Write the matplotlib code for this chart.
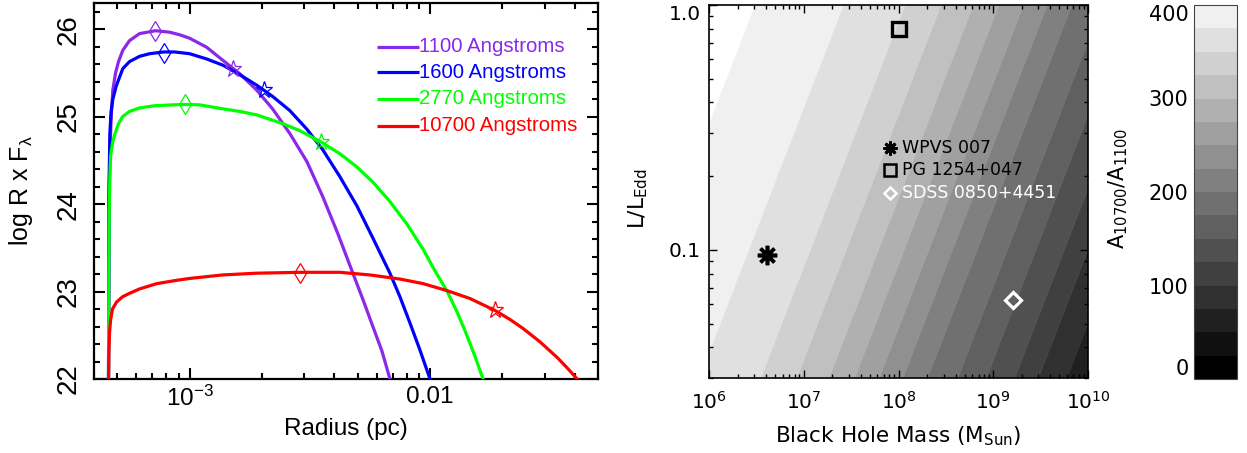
import numpy as np
import matplotlib
matplotlib.use("Agg")
import matplotlib.pyplot as plt
from matplotlib.ticker import LogLocator, MultipleLocator, NullFormatter

plt.rcParams["font.family"] = ["DejaVu Sans"]
plt.rcParams["mathtext.fontset"] = "custom"
plt.rcParams["mathtext.rm"] = "Liberation Sans"
plt.rcParams["mathtext.it"] = "Liberation Sans:italic"
plt.rcParams["mathtext.bf"] = "Liberation Sans:bold"

# ---------------- disk emission profiles (log R x F_lambda vs radius in pc)
band_labels = ["1100 Angstroms", "1600 Angstroms", "2770 Angstroms", "10700 Angstroms"]
band_colors = ["#8c28e8", "#0000ff", "#00ff00", "#ff0000"]

r_1100 = [4.597e-4, 4.619e-4, 4.663e-4, 4.708e-4, 4.789e-4, 4.916e-4, 5.059e-4,
          5.272e-4, 5.623e-4, 6.188e-4, 7.215e-4, 8.254e-4, 9.085e-4, 1.000e-3,
          1.177e-3, 1.372e-3, 1.616e-3, 1.902e-3, 2.218e-3, 2.610e-3, 3.074e-3,
          3.583e-3, 4.139e-3, 4.779e-3, 5.260e-3, 5.788e-3, 6.310e-3, 6.813e-3]
f_1100 = [22.0, 24.0, 24.6, 24.95, 25.30, 25.50, 25.63,
          25.76, 25.87, 25.95, 25.983, 25.966, 25.937, 25.897,
          25.794, 25.646, 25.491, 25.303, 25.086, 24.808, 24.487,
          24.083, 23.66, 23.208, 22.909, 22.598, 22.32, 22.0]

r_1600 = [4.597e-4, 4.619e-4, 4.655e-4, 4.708e-4, 4.789e-4, 4.949e-4, 5.272e-4,
          5.623e-4, 6.188e-4, 6.813e-4, 7.790e-4, 8.660e-4, 1.000e-3, 1.177e-3,
          1.372e-3, 1.616e-3, 1.902e-3, 2.218e-3, 2.610e-3, 3.074e-3, 3.583e-3,
          4.217e-3, 4.964e-3, 5.788e-3, 6.813e-3, 7.499e-3, 8.254e-3, 9.085e-3,
          1.000e-2]
f_1600 = [22.0, 24.2, 24.8, 25.05, 25.20, 25.35, 25.55,
          25.63, 25.69, 25.72, 25.74, 25.74, 25.72, 25.66,
          25.59, 25.48, 25.36, 25.23, 25.07, 24.857, 24.62,
          24.314, 23.98, 23.611, 23.21, 22.94, 22.64, 22.33,
          22.0]

r_2770 = [4.597e-4, 4.610e-4, 4.627e-4, 4.655e-4, 4.690e-4, 4.776e-4, 4.870e-4,
          5.059e-4, 5.257e-4, 5.623e-4, 6.188e-4, 7.146e-4, 8.494e-4, 9.624e-4,
          1.101e-3, 1.372e-3, 1.616e-3, 1.902e-3, 2.441e-3, 2.873e-3, 3.513e-3,
          4.217e-3, 4.964e-3, 5.788e-3, 6.813e-3, 8.020e-3, 9.350e-3, 1.050e-2,
          1.177e-2, 1.296e-2, 1.400e-2, 1.526e-2, 1.663e-2]
f_2770 = [22.0, 23.2, 23.9, 24.3, 24.55, 24.70, 24.79,
          24.92, 25.0, 25.06, 25.10, 25.125, 25.135, 25.14,
          25.135, 25.09, 25.06, 25.02, 24.92, 24.84, 24.712,
          24.577, 24.425, 24.251, 24.029, 23.771, 23.486, 23.234,
          23.006, 22.766, 22.549, 22.286, 22.0]

r_10700 = [4.597e-4, 4.610e-4, 4.642e-4, 4.687e-4, 4.776e-4, 4.964e-4, 5.257e-4,
           5.623e-4, 6.188e-4, 7.286e-4, 8.660e-4, 1.000e-3, 1.372e-3, 1.902e-3,
           2.873e-3, 4.217e-3, 5.623e-3, 7.499e-3, 9.350e-3, 1.177e-2, 1.468e-2,
           1.866e-2, 2.154e-2, 2.441e-2, 2.873e-2, 3.382e-2, 3.724e-2, 4.097e-2]
f_10700 = [22.0, 22.3, 22.53, 22.67, 22.80, 22.88, 22.94,
           22.98, 23.03, 23.09, 23.125, 23.15, 23.19, 23.21,
           23.22, 23.22, 23.19, 23.143, 23.091, 23.011, 22.92,
           22.783, 22.68, 22.577, 22.423, 22.246, 22.126, 22.0]

# peak (diamond) and half-light (star) radii of each band
peak_r = [7.2e-4, 7.8e-4, 9.6e-4, 2.87e-3]
peak_f = [25.98, 25.73, 25.14, 23.21]
half_r = [1.51e-3, 2.03e-3, 3.51e-3, 1.87e-2]
half_f = [25.55, 25.31, 24.71, 22.79]

# ---------------- area ratio A10700/A1100 over mass and Eddington ratio
ratio_levels = list(range(0, 425, 25))
# contour positions along log10(M) - log10(L/LEdd)
ratio_u = [5.5, 6.49, 7.42, 8.07, 8.45, 8.79, 9.06, 9.32, 9.57, 9.83,
           10.15, 10.45, 10.75, 11.0, 11.3, 11.6, 12.0]
ratio_val = [460, 400, 375, 350, 325, 300, 275, 250, 225, 200,
             175, 150, 125, 100, 75, 50, 20]

objects = ["WPVS 007", "PG 1254+047", "SDSS 0850+4451"]
obj_mass = [4.1e6, 1.0e8, 1.6e9]
obj_edd = [0.095, 0.80, 0.0625]

# ---------------- figure layout
W, H = 1247, 453
fig = plt.figure(figsize=(W / 100, H / 100), dpi=100)
ax1 = fig.add_axes([94 / W, 74 / H, 504 / W, 376 / H])
ax2 = fig.add_axes([709 / W, 75 / H, 379 / W, 373 / H])
cax = fig.add_axes([1194 / W, 74 / H, 43 / W, 374 / H])

LIB = "Liberation Sans"

# ---------------- left panel
radii = [r_1100, r_1600, r_2770, r_10700]
fluxes = [f_1100, f_1600, f_2770, f_10700]
for i, (r, f, c) in enumerate(zip(radii, fluxes, band_colors)):
    ax1.plot(r, f, color=c, lw=2.3, solid_joinstyle="round", zorder=3)
    ax1.plot(peak_r[i], peak_f[i], marker="d", ms=9.8, mfc="none", mec=c,
             mew=0.9, zorder=4)
    ax1.plot(half_r[i], half_f[i], marker="*", ms=12.5, mfc="none", mec=c,
             mew=0.9, zorder=4)

ax1.set_xscale("log")
ax1.set_xlim(4e-4, 0.05)
ax1.set_ylim(22, 26.3)
ax1.set_xticks([1e-3, 1e-2], labels=[r"10$^{-3}$", "0.01"])
ax1.xaxis.set_minor_locator(LogLocator(subs=np.arange(2, 10)))
ax1.xaxis.set_minor_formatter(NullFormatter())
ax1.set_yticks([22, 23, 24, 25, 26])
ax1.yaxis.set_minor_locator(MultipleLocator(0.2))
ax1.tick_params(which="both", direction="in", top=True, right=True,
                width=1.5, labelfontfamily=LIB)
ax1.tick_params(which="major", length=8)
ax1.tick_params(which="minor", length=4)
ax1.tick_params(axis="x", labelsize=17.5, pad=5)
ax1.tick_params(axis="y", labelsize=20, pad=9)
for lbl in ax1.get_yticklabels():
    lbl.set_rotation(90)
    lbl.set_va("center")
for sp in ax1.spines.values():
    sp.set_linewidth(1.6)

ax1.set_xlabel("Radius (pc)", family=LIB, fontsize=17.5)
ax1.xaxis.set_label_coords(0.5, -0.104)
ax1.set_ylabel(r"log R x F$_{\mathrm{λ}}$", family=LIB, fontsize=18)
ax1.yaxis.set_label_coords(-0.118, 0.5)

# legend: short line segment followed by coloured text
leg_y = [0.883, 0.816, 0.745, 0.673]
for yv, lab, c in zip(leg_y, band_labels, band_colors):
    ax1.plot([0.5615, 0.6448], [yv, yv], transform=ax1.transAxes, color=c,
             lw=2.3, solid_capstyle="butt")
    ax1.text(0.6448, yv, lab, transform=ax1.transAxes, color=c, family=LIB,
             fontsize=14.7, va="center", ha="left")

# ---------------- middle panel: filled contours of the area ratio
lm = np.linspace(6, 10, 600)
ll = np.linspace(np.log10(0.03), 0, 400)
LM, LL = np.meshgrid(lm, ll)
ratio = np.interp(LM - LL, ratio_u, ratio_val)
grays = [(16 * i / 255,) * 3 for i in range(len(ratio_levels) - 1)]
cs = ax2.contourf(10 ** LM, 10 ** LL, ratio, levels=ratio_levels, colors=grays,
                  antialiased=True)
cs.set_edgecolor("face")
cs.set_linewidth(0.4)

ax2.plot(obj_mass[0], obj_edd[0], ls="none", marker=(8, 2, 0), ms=14,
         mec="black", mew=2.6, zorder=5)
ax2.plot(obj_mass[1], obj_edd[1], ls="none", marker="s", ms=10.5, mfc="none",
         mec="black", mew=2.4, zorder=5)
ax2.plot(obj_mass[2], obj_edd[2], ls="none", marker="D", ms=8, mfc="none",
         mec="white", mew=2.3, zorder=5)

ax2.set_xscale("log")
ax2.set_yscale("log")
ax2.set_xlim(1e6, 1e10)
ax2.set_ylim(0.03, 1.0)
ax2.set_xticks([1e6, 1e7, 1e8, 1e9, 1e10],
               labels=[r"10$^{6}$", r"10$^{7}$", r"10$^{8}$", r"10$^{9}$", r"10$^{10}$"])
for t in ax2.get_xticklabels():
    t.set_math_fontfamily("dejavusans")
ax2.xaxis.set_minor_locator(LogLocator(subs=np.arange(2, 10)))
ax2.xaxis.set_minor_formatter(NullFormatter())
ax2.set_yticks([0.1, 1.0], labels=["0.1", "1.0"])
ax2.yaxis.set_minor_locator(LogLocator(subs=np.arange(2, 10)))
ax2.yaxis.set_minor_formatter(NullFormatter())
ax2.tick_params(which="both", direction="in", top=True, right=True, width=1.0,
                labelsize=14.5)
ax2.tick_params(which="major", length=6)
ax2.tick_params(which="minor", length=3)
ax2.tick_params(axis="x", pad=9)
ax2.tick_params(axis="y", pad=6)
ax2.get_yticklabels()[-1].set_va("top")
for sp in ax2.spines.values():
    sp.set_linewidth(1.2)
    sp.set_zorder(6)

ax2.set_xlabel(r"Black Hole Mass (M$_{\mathrm{Sun}}$)", fontsize=15.5,
               math_fontfamily="dejavusans")
ax2.xaxis.set_label_coords(0.5, -0.125)
ax2.set_ylabel(r"L/L$_{\mathrm{Edd}}$", fontsize=15.5, math_fontfamily="dejavusans")
ax2.yaxis.set_label_coords(-0.155, 0.48)

# key for the three objects
key_y = [0.6166, 0.5576, 0.496]
ax2.plot(0.4776, key_y[0], transform=ax2.transAxes, marker=(8, 2, 0), ms=10,
         mec="black", mew=2.0, zorder=5)
ax2.plot(0.4776, key_y[1], transform=ax2.transAxes, marker="s", ms=8, mfc="none",
         mec="black", mew=1.8, zorder=5)
ax2.plot(0.4776, key_y[2], transform=ax2.transAxes, marker="D", ms=6.3, mfc="none",
         mec="white", mew=1.8, zorder=5)
for yv, name, c in zip(key_y, objects, ["black", "black", "white"]):
    ax2.text(0.5092, yv, name, transform=ax2.transAxes, color=c, fontsize=12.5,
             va="center", ha="left", zorder=6)

# ---------------- colour bar
cb = fig.colorbar(cs, cax=cax)
cb.set_ticks([0, 100, 200, 300, 400])
cb.set_ticklabels(["0", "100", "200", "300", "400"])
cax.yaxis.set_ticks_position("left")
cax.yaxis.set_label_position("left")
cax.tick_params(length=0, labelsize=15, pad=4)
cb.outline.set_linewidth(0.8)
cb.outline.set_edgecolor("#444444")
labels = cax.get_yticklabels()
labels[0].set_va("bottom")
labels[-1].set_va("top")
cb.set_label(r"A$_{10700}$/A$_{1100}$", fontsize=15, math_fontfamily="dejavusans")
cax.yaxis.set_label_coords(-1.49, 0.51)

fig.savefig("out.png", dpi=100)
